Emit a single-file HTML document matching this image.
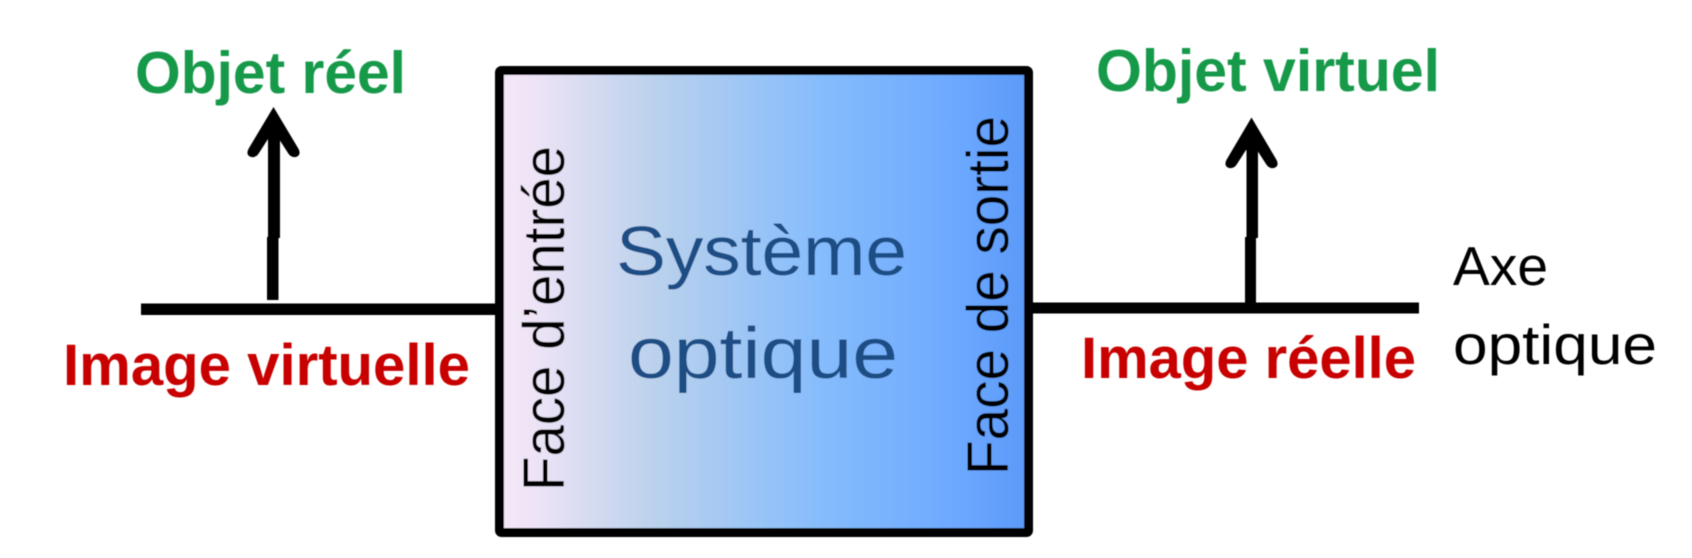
<!DOCTYPE html>
<html lang="fr">
<head>
<meta charset="utf-8">
<title>Système optique</title>
<style>
html,body{margin:0;padding:0;background:#fff;width:1692px;height:558px;overflow:hidden}
svg{display:block}
text{font-family:"Liberation Sans",sans-serif}
</style>
</head>
<body>
<svg width="1692" height="558" viewBox="0 0 1692 558" xmlns="http://www.w3.org/2000/svg">
<defs>
<linearGradient id="g" x1="0" x2="1" y1="0" y2="0">
<stop offset="0" stop-color="#f5e8f8"/>
<stop offset="0.06" stop-color="#efe4f6"/>
<stop offset="0.3" stop-color="#b9d1ed"/>
<stop offset="0.6" stop-color="#87bdfc"/>
<stop offset="0.88" stop-color="#6ba7ff"/>
<stop offset="1" stop-color="#5a99f8"/>
</linearGradient>
<filter id="b" x="-5%" y="-5%" width="110%" height="110%"><feGaussianBlur stdDeviation="0.6"/></filter>
</defs>
<g filter="url(#b)">
<!-- box -->
<rect x="499.500" y="70.500" width="529" height="462" rx="2" fill="url(#g)" stroke="#000" stroke-width="9"/>
<!-- axis -->
<rect x="141" y="303.500" width="355" height="11.500" fill="#000"/>
<rect x="1032" y="302.500" width="387" height="11" fill="#000"/>
<!-- left arrow -->
<rect x="268" y="130" width="12" height="108" fill="#000"/>
<rect x="267" y="237" width="11.500" height="63" fill="#000"/>
<path d="M273.500 107 L298 148 Q302 155 296 157 Q291 158 288 153 L279 139 L268 139 L259 153 Q256 158 251 157 Q245 155 249 148 Z" fill="#000"/>
<!-- right arrow -->
<rect x="1246.500" y="140" width="11.500" height="98" fill="#000"/>
<rect x="1245" y="237" width="11" height="67" fill="#000"/>
<path d="M1251.500 117.500 L1276 159 Q1280 166 1274 168 Q1269 169 1266 164 L1257 150 L1246 150 L1237 164 Q1234 169 1229 168 Q1223 166 1227 159 Z" fill="#000"/>
<!-- labels -->
<text x="135" y="93" font-size="59" font-weight="700" fill="#12994a" textLength="271" lengthAdjust="spacingAndGlyphs">Objet réel</text>
<text x="1096" y="91" font-size="59" font-weight="700" fill="#12994a" textLength="344" lengthAdjust="spacingAndGlyphs">Objet virtuel</text>
<text x="63" y="385" font-size="58" font-weight="700" fill="#c80000" textLength="407" lengthAdjust="spacingAndGlyphs">Image virtuelle</text>
<text x="1081" y="378" font-size="58" font-weight="700" fill="#c80000" textLength="335" lengthAdjust="spacingAndGlyphs">Image réelle</text>
<text x="1453" y="285" font-size="55" fill="#000" textLength="95" lengthAdjust="spacingAndGlyphs">Axe</text>
<text x="1453" y="364" font-size="56" fill="#000" textLength="204" lengthAdjust="spacingAndGlyphs">optique</text>
<text x="616" y="275" font-size="70" fill="#1f4e85" textLength="291" lengthAdjust="spacingAndGlyphs">Système</text>
<text x="628" y="378" font-size="72" fill="#1f4e85" textLength="270" lengthAdjust="spacingAndGlyphs">optique</text>
<text transform="translate(564 491) rotate(-90)" font-size="58" fill="#000" textLength="345" lengthAdjust="spacingAndGlyphs">Face d’entrée</text>
<text transform="translate(1008 475) rotate(-90)" font-size="58" fill="#000" textLength="359" lengthAdjust="spacingAndGlyphs">Face de sortie</text>
</g>
</svg>
</body>
</html>
